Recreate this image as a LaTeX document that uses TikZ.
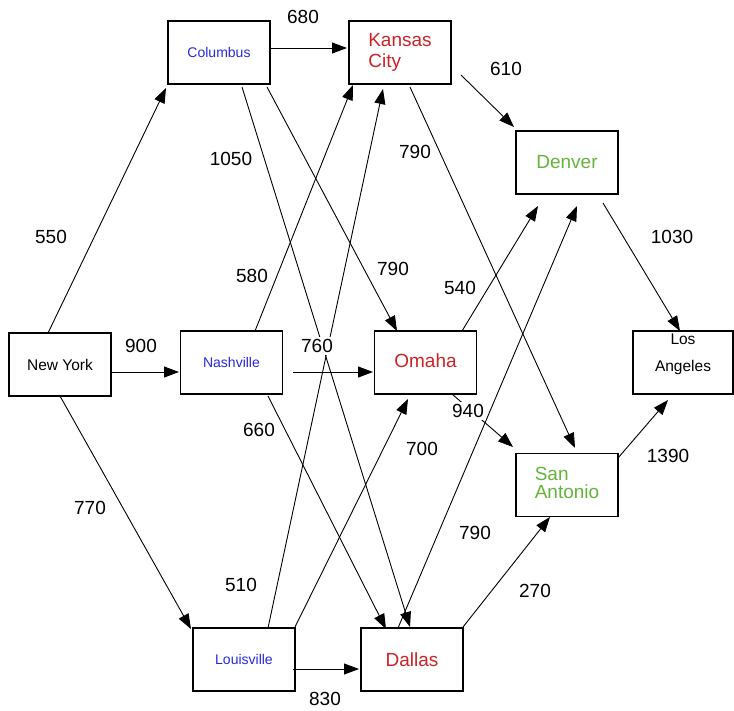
\documentclass[tikz,border=0pt]{standalone}
\usepackage{fontspec}
\setmainfont{Liberation Sans}
\usetikzlibrary{arrows.meta}
\definecolor{cityblue}{RGB}{40,40,225}
\definecolor{cityred}{RGB}{205,35,40}
\definecolor{citygreen}{RGB}{100,180,60}
\tikzset{
  box/.style={draw=black, line width=1.3pt, minimum width=102pt, minimum height=63pt, inner sep=0pt},
  bluetxt/.style={text=cityblue, font=\fontsize{14}{16}\selectfont},
  redtxt/.style={text=cityred, font=\fontsize{19}{21}\selectfont, align=left},
  greentxt/.style={text=citygreen, font=\fontsize{19}{20}\selectfont, align=left},
  blacktxt/.style={text=black, font=\fontsize{15.5}{18}\selectfont},
  conn/.style={draw=black, line width=0.9pt, -{Triangle[length=15pt,width=11pt]}},
  dist/.style={fill=white, inner sep=2.5pt, font=\fontsize{19}{21}\selectfont}
}
\begin{document}
\begin{tikzpicture}[x=1pt,y=1pt]
\useasboundingbox[fill=white] (0,0) rectangle (734,-710);
% boxes
\node[box, blacktxt] (ny)  at (60,-364.5) {New York};
\node[box, bluetxt]  (col) at (219,-52.5) {Columbus};
\node[box, bluetxt]  (nas) at (231.5,-362.5) {Nashville};
\node[box, bluetxt]  (lou) at (244,-659.5) {Louisville};
\node[box, redtxt]   (kc)  at (400,-52.5) {Kansas\\City};
\node[box, redtxt]   (oma) at (425.5,-362.5) {\raisebox{4pt}{Omaha}};
\node[box, redtxt]   (dal) at (412,-659.5) {Dallas};
\node[box, greentxt] (den) at (567,-162.5) {Denver};
\node[box, greentxt] (sa)  at (567,-485) {\raisebox{-4pt}{\begin{tabular}{@{}l@{}}San\\[-2pt]Antonio\end{tabular}}};
\node[box, minimum width=100pt] (la) at (683,-362.5) {};
\node[blacktxt, align=center, font=\fontsize{15.5}{27}\selectfont] (latext) at (683,-354) {Los\\Angeles};
% connectors
\draw[conn] ([xshift=-12pt,yshift=31.5pt]ny.center) -- ([xshift=-53pt,yshift=-35.5pt]col.center);
\draw[conn] ([xshift=51pt,yshift=4.5pt]col.center) -- ([xshift=-53pt,yshift=4.5pt]kc.center);
\draw[conn] ([xshift=51pt,yshift=-7.5pt]ny.center) -- ([xshift=-52.5pt,yshift=-9.5pt]nas.center);
\draw[conn] ([xshift=0pt,yshift=-31.5pt]ny.center) -- ([xshift=-53pt,yshift=30.5pt]lou.center);
\draw[conn] ([xshift=23.5pt,yshift=31.5pt]nas.center) -- ([xshift=-47pt,yshift=-32.5pt]kc.center);
\draw[conn] ([xshift=23pt,yshift=-34.5pt]col.center) -- ([xshift=-2pt,yshift=32.5pt]dal.center);
\draw[conn] ([xshift=48pt,yshift=-34.5pt]col.center) -- ([xshift=-28.5pt,yshift=31.5pt]oma.center);
\draw[conn] ([xshift=61pt,yshift=-22.5pt]kc.center) -- ([xshift=-53pt,yshift=35.5pt]den.center);
\draw[conn] ([xshift=10pt,yshift=-34.5pt]kc.center) -- ([xshift=8pt,yshift=37pt]sa.center);
\draw[conn] ([xshift=36.5pt,yshift=-33.5pt]nas.center) -- ([xshift=-26pt,yshift=30.5pt]dal.center);
\draw[conn] ([xshift=61.5pt,yshift=-9.5pt]nas.center) -- ([xshift=-52.5pt,yshift=-9.5pt]oma.center);
\draw[conn] ([xshift=24pt,yshift=31.5pt]lou.center) -- ([xshift=-17pt,yshift=-36.5pt]kc.center);
\draw[conn] ([xshift=51pt,yshift=32.5pt]lou.center) -- ([xshift=-17.5pt,yshift=-36.5pt]oma.center);
\draw[conn] ([xshift=49pt,yshift=-9.5pt]lou.center) -- ([xshift=-53pt,yshift=-9.5pt]dal.center);
\draw[conn] ([xshift=36.5pt,yshift=31.5pt]oma.center) -- ([xshift=-29pt,yshift=-43.5pt]den.center);
\draw[conn] ([xshift=26.5pt,yshift=-31.5pt]oma.center) -- ([xshift=-54pt,yshift=38pt]sa.center);
\draw[conn] ([xshift=-14pt,yshift=31.5pt]dal.center) -- ([xshift=10pt,yshift=-43.5pt]den.center);
\draw[conn] ([xshift=51pt,yshift=32.5pt]dal.center) -- ([xshift=-17pt,yshift=-32pt]sa.center);
\draw[conn] ([xshift=36pt,yshift=-40.5pt]den.center) -- ([xshift=-3pt,yshift=31.5pt]la.center);
\draw[conn] ([xshift=51pt,yshift=27pt]sa.center) -- ([xshift=-15pt,yshift=-37.5pt]la.center);
% distance labels
\node[dist] (d550)  at (51,-237) {550};
\node[dist] (d680)  at (303,-17) {680};
\node[dist] (d900)  at (141,-346) {900};
\node[dist] (d770)  at (90,-508) {770};
\node[dist] (d580)  at (252,-276) {580};
\node[dist] (d1050) at (231,-159) {1050};
\node[dist] (d790a) at (393,-269) {790};
\node[dist] (d610)  at (506,-69) {610};
\node[dist] (d790b) at (415,-152) {790};
\node[dist] (d660)  at (259,-430) {660};
\node[dist] (d760)  at (317,-346) {760};
\node[dist] (d510)  at (241,-585) {510};
\node[dist] (d700)  at (422,-449) {700};
\node[dist, inner sep=1pt] (d830)  at (325,-699) {830};
\node[dist] (d540)  at (460,-288) {540};
\node[dist] (d940)  at (468,-411) {940};
\node[dist] (d790c) at (475,-533) {790};
\node[dist] (d270)  at (535,-591) {270};
\node[dist] (d1030) at (672,-237) {1030};
\node[dist] (d1390) at (668,-456) {1390};
\end{tikzpicture}
\end{document}
